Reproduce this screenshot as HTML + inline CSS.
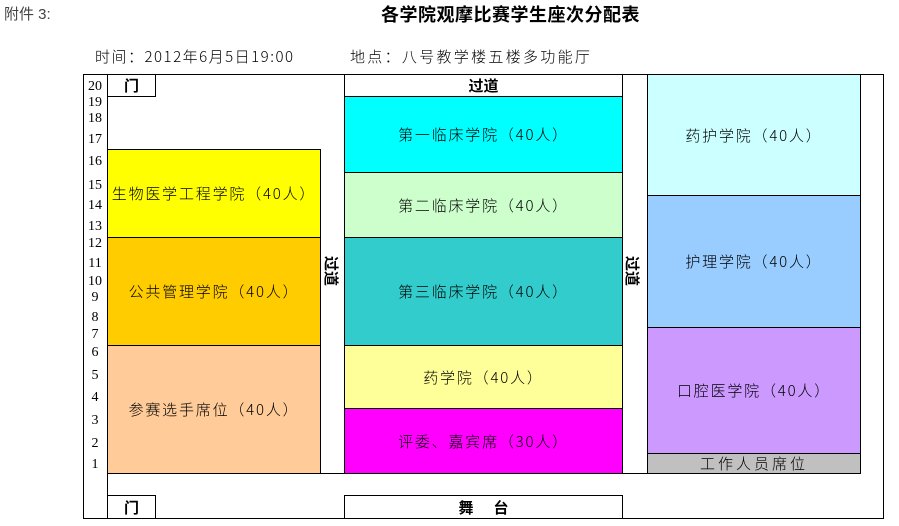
<!DOCTYPE html>
<html><head><meta charset="utf-8"><style>
body{margin:0;width:899px;height:526px;background:#fff;position:relative;overflow:hidden;font-family:"Liberation Serif","Noto Sans CJK SC",serif;}
.a{position:absolute;box-sizing:border-box;}
.b{border:1px solid #000;}
.t{display:flex;align-items:center;justify-content:center;font-size:15px;letter-spacing:1.8px;color:#000;white-space:nowrap;font-family:"Noto Sans CJK SC",sans-serif;font-weight:300;}
.n{position:absolute;left:84px;width:22px;text-align:center;font-size:14px;line-height:14px;font-family:"Liberation Serif",serif;}
.h{font-weight:bold;font-family:"Liberation Sans","Noto Sans CJK SC",sans-serif;letter-spacing:0;}
</style></head><body>
<div class="a" style="left:4px;top:3px;font-size:15px;color:#444;font-family:'Liberation Sans','Noto Sans CJK SC',sans-serif;">附件 3:</div>
<div class="a h" style="left:381px;top:1px;font-size:18px;letter-spacing:0.5px;">各学院观摩比赛学生座次分配表</div>
<div class="a" style="left:95px;top:46px;font-size:15px;font-family:'Noto Sans CJK SC',sans-serif;font-weight:300;letter-spacing:1.5px;">时间：2012年6月5日19:00</div>
<div class="a" style="left:350px;top:46px;font-size:15px;letter-spacing:2.3px;font-family:'Noto Sans CJK SC',sans-serif;font-weight:300;">地点：八号教学楼五楼多功能厅</div>

<div class="a b" style="left:83px;top:74px;width:801px;height:445px;"></div>
<div class="a" style="left:107px;top:74px;width:1px;height:445px;background:#000;"></div>
<div class="a" style="left:107px;top:473px;width:753px;height:1px;background:#000;"></div>

<div class="a b t h" style="left:107px;top:74px;width:49px;height:23px;font-weight:bold;">门</div>
<div class="a b t h" style="left:107px;top:495px;width:49px;height:24px;font-weight:bold;">门</div>
<div class="a b t h" style="left:344px;top:74px;width:279px;height:23px;font-weight:bold;">过道</div>
<div class="a b t h" style="left:344px;top:495px;width:279px;height:24px;letter-spacing:20px;padding-left:20px;font-weight:bold;">舞台</div>

<div class="a b t" style="left:107px;top:149px;width:214px;height:89px;background:#ffff00;">生物医学工程学院（40人）</div>
<div class="a b t" style="left:107px;top:237px;width:214px;height:109px;background:#ffcc00;">公共管理学院（40人）</div>
<div class="a b t" style="left:107px;top:345px;width:214px;height:129px;background:#ffcc99;">参赛选手席位（40人）</div>

<div class="a b t" style="left:344px;top:96px;width:279px;height:77px;background:#00ffff;">第一临床学院（40人）</div>
<div class="a b t" style="left:344px;top:172px;width:279px;height:66px;background:#ccffcc;">第二临床学院（40人）</div>
<div class="a b t" style="left:344px;top:237px;width:279px;height:109px;background:#33cccc;">第三临床学院（40人）</div>
<div class="a b t" style="left:344px;top:345px;width:279px;height:64px;background:#ffff99;">药学院（40人）</div>
<div class="a b t" style="left:344px;top:408px;width:279px;height:66px;background:#ff00ff;">评委、嘉宾席（30人）</div>

<div class="a b" style="left:622px;top:74px;width:26px;height:400px;"></div>
<div class="a b t" style="left:647px;top:74px;width:214px;height:122px;background:#ccffff;">药护学院（40人）</div>
<div class="a b t" style="left:647px;top:195px;width:214px;height:133px;background:#99ccff;">护理学院（40人）</div>
<div class="a b t" style="left:647px;top:327px;width:214px;height:127px;background:#cc99ff;">口腔医学院（40人）</div>
<div class="a b t" style="left:647px;top:453px;width:214px;height:21px;background:#c0c0c0;letter-spacing:3px;">工作人员席位</div>

<div class="a h" style="left:315px;top:262px;width:36px;height:18px;font-size:15px;text-align:center;transform:rotate(90deg);">过道</div>
<div class="a h" style="left:616px;top:262px;width:36px;height:18px;font-size:15px;text-align:center;transform:rotate(90deg);">过道</div>

<div class="n" style="top:80px">20</div><div class="n" style="top:96px">19</div><div class="n" style="top:112px">18</div><div class="n" style="top:133px">17</div><div class="n" style="top:155px">16</div><div class="n" style="top:179px">15</div><div class="n" style="top:199px">14</div><div class="n" style="top:220px">13</div><div class="n" style="top:237px">12</div><div class="n" style="top:257px">11</div><div class="n" style="top:275px">10</div><div class="n" style="top:291px">9</div><div class="n" style="top:311px">8</div><div class="n" style="top:328px">7</div><div class="n" style="top:346px">6</div><div class="n" style="top:369px">5</div><div class="n" style="top:391px">4</div><div class="n" style="top:414px">3</div><div class="n" style="top:437px">2</div><div class="n" style="top:458px">1</div>
</body></html>
